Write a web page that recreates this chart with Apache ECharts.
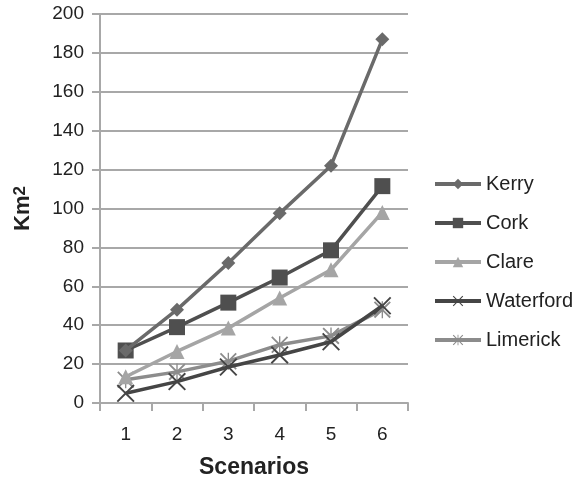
<!DOCTYPE html>
<html>
<head>
<meta charset="utf-8">
<script src="https://cdn.jsdelivr.net/npm/echarts@6/dist/echarts.min.js"></script>
<style>html,body{margin:0;padding:0;background:#fff}#c{width:586px;height:482px}</style>
</head>
<body>
<div id="c"></div>
<script>
var categories = ['1', '2', '3', '4', '5', '6'];
var seriesNames = ['Kerry', 'Cork', 'Clare', 'Waterford', 'Limerick'];
var kerry = [27, 48, 72, 97.5, 122, 187];
var cork = [27, 39, 51.6, 64.5, 78.5, 111.5];
var clare = [13.5, 26.5, 38.5, 54, 68.5, 98];
var waterford = [5, 11, 18.5, 24.7, 31.5, 50];
var limerick = [12, 16, 21.5, 30, 34.5, 48];
var yTicks = [0, 20, 40, 60, 80, 100, 120, 140, 160, 180, 200];

var xPath = 'path://M0,1.5 L1.5,0 L10,8.5 L18.5,0 L20,1.5 L11.5,10 L20,18.5 L18.5,20 L10,11.5 L1.5,20 L0,18.5 L8.5,10 Z';
var starPath = 'path://M0,1.5 L1.5,0 L10,8.5 L18.5,0 L20,1.5 L11.5,10 L20,18.5 L18.5,20 L10,11.5 L1.5,20 L0,18.5 L8.5,10 Z M9.2,0 L10.8,0 L10.8,20 L9.2,20 Z';

var styles = [
  {color: '#6a6a6a', symbol: 'diamond', size: 14},
  {color: '#4f4f4f', symbol: 'rect', size: 16},
  {color: '#a5a5a5', symbol: 'triangle', size: 15},
  {color: '#454545', symbol: xPath, size: 18},
  {color: '#8c8c8c', symbol: starPath, size: 17}
];
var data = [kerry, cork, clare, waterford, limerick];
var font = 'Liberation Sans, Arial, sans-serif';

var chart = echarts.init(document.getElementById('c'));
chart.setOption({
  backgroundColor: '#ffffff',
  animation: false,
  textStyle: {fontFamily: font},
  grid: {left: 100, right: 178, top: 14, bottom: 79, containLabel: false, outerBoundsMode: 'none'},
  legend: {
    orient: 'vertical',
    left: 428, top: 169,
    itemWidth: 46, itemHeight: 13, itemGap: 19,
    lineStyle: {width: 4},
    textStyle: {fontSize: 20, color: '#222', fontFamily: font},
    data: seriesNames
  },
  xAxis: {
    type: 'category',
    data: categories,
    boundaryGap: true,
    name: 'Scenarios',
    nameLocation: 'middle',
    nameGap: 53,
    nameTextStyle: {fontSize: 23, fontWeight: 'bold', color: '#222', fontFamily: font},
    axisLine: {lineStyle: {color: '#a8a8a8', width: 2}},
    axisTick: {show: true, length: 8, lineStyle: {color: '#a8a8a8', width: 2}},
    axisLabel: {fontSize: 19, color: '#222', margin: 22}
  },
  yAxis: {
    type: 'value',
    min: 0, max: 200, interval: 20,
    name: 'Km{s|2}',
    nameLocation: 'middle',
    nameGap: 66,
    nameTextStyle: {fontSize: 22, fontWeight: 'bold', color: '#222', fontFamily: font,
      rich: {s: {fontSize: 17, fontWeight: 'bold', color: '#222', fontFamily: font, verticalAlign: 'top', lineHeight: 22}}},
    axisLine: {show: true, lineStyle: {color: '#a8a8a8', width: 2}},
    axisTick: {show: true, length: 8, lineStyle: {color: '#a8a8a8', width: 2}},
    axisLabel: {fontSize: 19, color: '#222', margin: 16,
      formatter: function (v) { return yTicks.indexOf(v) >= 0 ? String(v) : ''; }},
    splitLine: {show: true, lineStyle: {color: '#a8a8a8', width: 2}}
  },
  series: seriesNames.map(function (n, i) {
    return {
      name: n,
      type: 'line',
      data: data[i],
      symbol: styles[i].symbol,
      symbolSize: styles[i].size,
      showAllSymbol: true,
      lineStyle: {color: styles[i].color, width: 3.5},
      itemStyle: {color: styles[i].color},
      z: 10 - i
    };
  })
});
</script>
</body>
</html>
